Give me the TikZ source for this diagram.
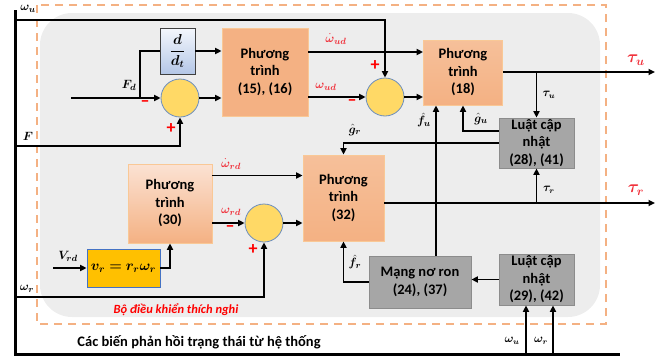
\documentclass[tikz,border=0pt]{standalone}
\usepackage{amsmath,bm}
\usepackage{fontspec}
\setmainfont{Carlito}
\usetikzlibrary{arrows.meta,shadings,calc}
\definecolor{bggray}{HTML}{EDEDED}
\definecolor{dashor}{HTML}{F4B183}
\definecolor{orA}{HTML}{F4B183}
\definecolor{orB}{HTML}{F6C09A}
\definecolor{orlight}{HTML}{FBE2D3}
\definecolor{orbord}{HTML}{F9C896}
\definecolor{circfill}{HTML}{FFD966}
\definecolor{circbord}{HTML}{6C8EBF}
\definecolor{yel}{HTML}{FFC000}
\definecolor{yelbord}{HTML}{4472C4}
\definecolor{grayfill}{HTML}{A6A6A6}
\definecolor{graybord}{HTML}{8C8C8C}
\definecolor{redtxt}{HTML}{FF0000}
\definecolor{redlab}{HTML}{F0303A}
\definecolor{bluetop}{HTML}{F4F7FC}
\definecolor{bluebot}{HTML}{B4C7E7}
\begin{document}
\begin{tikzpicture}[x=1pt,y=-1pt,
  conn/.style={line width=1.6pt,-{Triangle[length=6.5pt,width=6pt]}},
  plain/.style={line width=1.6pt},
  blk/.style={inner sep=0pt,align=center,font=\bfseries\fontsize{14.5}{17.5}\selectfont},
  eqbox/.style={blk,draw=orbord,line width=0.8pt,fill=orA},
  eqgrad/.style={blk,draw=orbord,line width=0.8pt,top color=#1,bottom color=orA},
  graybox/.style={blk,draw=graybord,line width=0.8pt,fill=grayfill},
  sumc/.style={circle,draw=circbord,line width=0.8pt,fill=circfill,minimum size=38pt,inner sep=0pt},
  lab/.style={inner sep=0pt,font=\fontsize{13}{15}\selectfont},
  slab/.style={inner sep=0pt,font=\fontsize{12}{13}\selectfont},
  rlab/.style={lab,text=redlab},
  sign/.style={inner sep=0pt,text=redtxt,font=\bfseries\fontsize{18}{18}\selectfont},
]
\useasboundingbox (0,0) rectangle (665,362);
% background
\fill[bggray, rounded corners=32pt] (40,13) rectangle (600,317);
\draw[dashor, line width=2pt, dash pattern=on 8pt off 6pt] (37,5) rectangle (606,324);

% blocks
\node[blk,draw=black!75,line width=0.8pt,top color=bluetop,bottom color=bluebot,minimum width=35pt,minimum height=46pt] (ddt) at (177.5,51) {$\bm{\dfrac{d}{d_t}}$};
\node[eqbox,minimum width=86pt,minimum height=88pt] (e1516) at (265,72) {Phương\\trình\\(15), (16)};
\node[sumc] (c1) at (180,98) {};
\node[sumc] (c2) at (385,97) {};
\node[eqgrad=orB,minimum width=79pt,minimum height=65pt] (e18) at (463,72.5) {Phương\\trình\\(18)};
\node[graybox,minimum width=75pt,minimum height=50pt] (upd1) at (536.5,143) {Luật cập\\nhật\\(28), (41)};
\node[eqgrad=orlight,minimum width=84pt,minimum height=79pt] (e30) at (170,203.5) {Phương\\trình\\(30)};
\node[eqgrad=orB,minimum width=81pt,minimum height=86pt] (e32) at (343.5,198) {Phương\\trình\\(32)};
\node[sumc] (c3) at (264,223) {};
\node[blk,draw=yelbord,line width=0.8pt,fill=yel,minimum width=73pt,minimum height=38pt] (vr) at (123.5,268) {$\bm{v_r = r_r\omega_r}$};
\node[graybox,minimum width=102pt,minimum height=52pt] (mang) at (420,282) {Mạng nơ ron\\(24), (37)};
\node[graybox,minimum width=75pt,minimum height=51pt] (upd2) at (536.5,279.5) {Luật cập\\nhật\\(29), (42)};

% free ends
\coordinate (lt) at (15,10);
\coordinate (lb) at (15,354);
\coordinate (rb) at (620,354);
\coordinate (wu0) at (15,20);
\coordinate (f0) at (15,146);
\coordinate (wr0) at (15,297);
\coordinate (fdin) at (71,98);
\coordinate (fdbr) at (140,98);
\coordinate (vrd0) at (53,268);
\coordinate (tauu) at (655,72);
\coordinate (taur) at (655,203);
\coordinate (bu) at (526,354);
\coordinate (br) at (553,354);

% outer feedback bus
\draw[line width=3pt,line join=miter] (lt) -- (lb) -- (rb);
\draw[conn] (wu0) -| (c2.north);
\draw[conn] (f0) -| (c1.south);
\draw[conn] (wr0) -| (c3.south);
\draw[conn] (bu) -- (bu |- upd2.south);
\draw[conn] (br) -- (br |- upd2.south);

% upper chain
\draw[conn] (fdin) -- (c1.west);
\draw[plain] (fdbr) |- (ddt.west);
\draw[conn] (ddt.east) -- (ddt.east -| e1516.west);
\draw[conn] (c1.east) -- (c1.east -| e1516.west);
\draw[conn] ([yshift=20pt]e1516.east) -- ([yshift=20pt]e1516.east -| e18.west);
\draw[conn] (c2.west -| e1516.east) -- (c2.west);
\draw[conn] (c2.east) -- (c2.east -| e18.west);
\draw[conn] (e18.east |- tauu) -- (tauu);
\draw[conn] (upd1.north |- tauu) -- (upd1.north);
\draw[conn] ([yshift=12pt]upd1.west) -| (e18.south);
\draw[conn] (upd1.west) -| (e32.north);
\draw[conn] ([xshift=16pt]mang.north) -- ([xshift=16pt]mang.north |- e18.south);

% lower chain
\draw[conn] (vrd0) -- (vr.west);
\draw[conn] (vr.east) -| (e30.south);
\draw[conn] ([yshift=28pt]e30.east) -- ([yshift=28pt]e30.east -| e32.west);
\draw[conn] (c3.west -| e30.east) -- (c3.west);
\draw[conn] (c3.east) -- (c3.east -| e32.west);
\draw[conn] (e32.east |- taur) -- (taur);
\draw[conn] (upd1.south |- taur) -- (upd1.south);
\draw[conn] (mang.west) -| (e32.south);
\draw[conn] (upd2.west) -- (upd2.west -| mang.east);

% labels
\node[lab] (lwu) at (28,9) {$\bm{\omega_u}$};
\node[lab] (lF) at (28,136) {$\bm{F}$};
\node[lab] (lwr) at (27,289) {$\bm{\omega_r}$};
\node[lab] (lFd) at (129,85) {$\bm{F_d}$};
\node[lab] (lVrd) at (68,256) {$\bm{V_{rd}}$};
\node[rlab] (lwud1) at (336,39) {$\bm{\dot\omega_{ud}}$};
\node[rlab] (lwud2) at (326,87) {$\bm{\omega_{ud}}$};
\node[rlab] (lwrd1) at (231,164) {$\bm{\dot\omega_{rd}}$};
\node[rlab] (lwrd2) at (231,212) {$\bm{\omega_{rd}}$};
\node[rlab,font=\fontsize{17}{17}\selectfont] (ltauu) at (636,60) {$\bm{\tau_u}$};
\node[rlab,font=\fontsize{17}{17}\selectfont] (ltaur) at (636,190) {$\bm{\tau_r}$};
\node[slab] (ltu) at (549,95) {$\bm{\tau_u}$};
\node[slab] (ltr) at (549,190) {$\bm{\tau_r}$};
\node[lab] (lgu) at (481,119) {$\bm{\hat g_u}$};
\node[lab] (lgr) at (355,130) {$\bm{\hat g_r}$};
\node[lab] (lfu) at (424,120) {$\bm{\hat f_u}$};
\node[lab] (lfr) at (355,262) {$\bm{\hat f_r}$};
\node[slab] (lbu) at (512,341) {$\bm{\omega_u}$};
\node[slab] (lbr) at (541,341) {$\bm{\omega_r}$};

% signs
\node[sign] (m1) at (145,104) {–};
\node[sign] (p1) at (171,129) {+};
\node[sign] (m2) at (352,103) {–};
\node[sign] (p2) at (375,66) {+};
\node[sign] (m3) at (230,229) {–};
\node[sign] (p3) at (253,250) {+};

% captions
\node[inner sep=0pt,text=redtxt,font=\bfseries\itshape\fontsize{12.5}{14}\selectfont] (cap1) at (176,310) {Bộ điều khiển thích nghi};
\node[inner sep=0pt,font=\bfseries\fontsize{14.5}{16}\selectfont] (cap2) at (199,342) {Các biến phản hồi trạng thái từ hệ thống};
\end{tikzpicture}
\end{document}
